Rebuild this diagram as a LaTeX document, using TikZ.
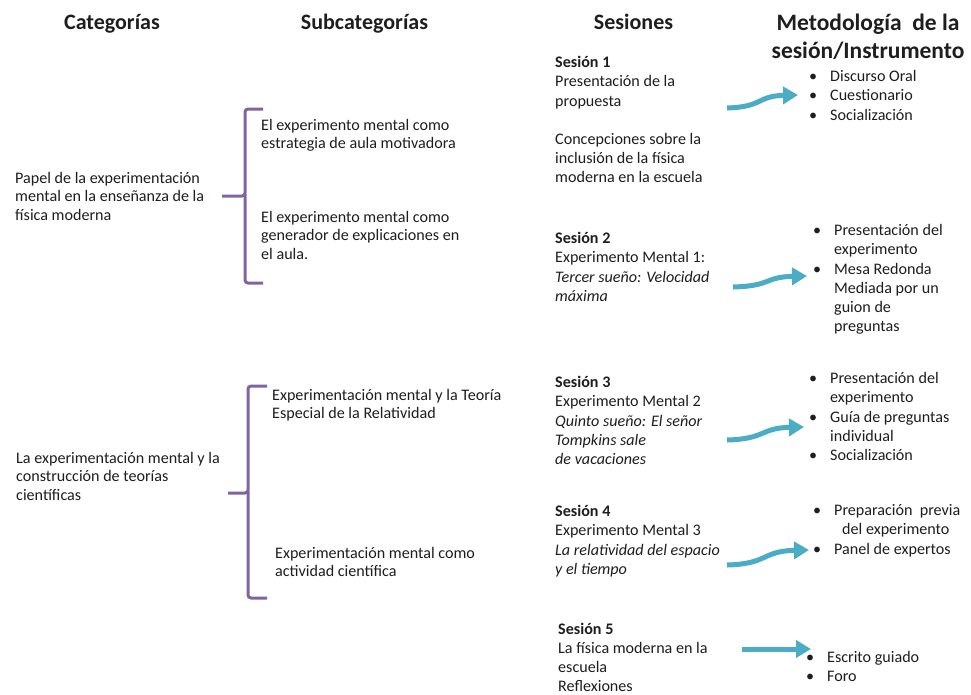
\documentclass[tikz,border=0pt]{standalone}
\usepackage{fontspec}
\setmainfont{Carlito}
\usetikzlibrary{arrows.meta}
\definecolor{txtcol}{RGB}{30,30,30}
\definecolor{bracecol}{RGB}{128,100,162}
\definecolor{arrowcol}{RGB}{75,172,198}
\newcommand{\bitem}{\makebox[21pt][l]{\textbullet}}
\newcommand{\bcont}{\hspace*{21pt}}
\begin{document}
\begin{tikzpicture}[x=1pt,y=-1pt,
  hdr/.style={anchor=north, inner sep=0pt, align=center, text=txtcol,
    font=\fontsize{22}{26}\selectfont\bfseries},
  txt/.style={anchor=north west, inner sep=0pt, align=left, text=txtcol,
    font=\fontsize{16.1}{18.6}\selectfont},
  sess/.style={txt, font=\fontsize{16.1}{19.2}\selectfont},
  bracepath/.style={draw=bracecol, line width=3pt, rounded corners=3pt},
  flow/.style={draw=arrowcol, line width=5pt, -{Triangle[length=15pt,width=17pt]}}]
\useasboundingbox (0,0) rectangle (971,694);
\fill[white] (0,0) rectangle (971,694);

% headers
\node[hdr] (h1) at (112,11) {\strut Categorías};
\node[hdr] (h2) at (364.5,11) {\strut Subcategorías};
\node[hdr] (h3) at (633.5,11) {\strut Sesiones};
\node[hdr, font=\fontsize{23.5}{28}\selectfont\bfseries] (h4) at (868,10.2) {\strut Metodología\ \ de la\\sesión/Instrumento};

% categories
\node[txt] (cat1) at (15,170) {\strut Papel de la experimentación\\mental en la enseñanza de la\\física moderna};
\node[txt] (cat2) at (16,450) {\strut La experimentación mental y la\\construcción de teorías\\científicas};

% subcategories
\node[txt] (sub1a) at (261,117) {\strut El experimento mental como\\estrategia de aula motivadora};
\node[txt] (sub1b) at (261,209) {\strut El experimento mental como\\generador de explicaciones en\\el aula.};
\node[txt] (sub2a) at (272,387) {\strut Experimentación mental y la Teoría\\Especial de la Relatividad};
\node[txt] (sub2b) at (275,545) {\strut Experimentación mental como\\actividad científica};

% braces
\coordinate (br1t) at (263,109);
\coordinate (br1m) at (222,196);
\coordinate (br1b) at (263,283);
\draw[bracepath] (br1t) -| (245,196) -- (br1m);
\draw[bracepath] (245,194) |- (br1b);
\coordinate (br2t) at (267,386);
\coordinate (br2m) at (228,493);
\coordinate (br2b) at (267,598);
\draw[bracepath] (br2t) -| (248,493) -- (br2m);
\draw[bracepath] (248,491) |- (br2b);

% sessions
\node[sess] (s1) at (555,54) {\strut\textbf{Sesión 1}\\Presentación de la\\propuesta\\[19.2pt]Concepciones sobre la\\inclusión de la física\\moderna en la escuela};
\node[sess] (s2) at (555,230) {\strut\textbf{Sesión 2}\\Experimento Mental 1:\\\textit{Tercer sueño: Velocidad}\\\textit{máxima}};
\node[sess] (s3) at (555,374) {\strut\textbf{Sesión 3}\\Experimento Mental 2\\\textit{Quinto sueño: El señor}\\\textit{Tompkins sale}\\\textit{de vacaciones}};
\node[sess] (s4) at (555,503) {\strut\textbf{Sesión 4}\\Experimento Mental 3\\\textit{La relatividad del espacio}\\\textit{y el tiempo}};
\node[sess, font=\fontsize{16.1}{19}\selectfont] (s5) at (558,621) {\strut\textbf{Sesión 5}\\La física moderna en la\\escuela\\Reflexiones};

% methodology lists
\node[sess] (m1) at (809,68) {\strut\bitem Discurso Oral\\\bitem Cuestionario\\\bitem Socialización};
\node[sess] (m2) at (813,222) {\strut\bitem Presentación del\\\bcont experimento\\\bitem Mesa Redonda\\\bcont Mediada por un\\\bcont guion de\\\bcont preguntas};
\node[sess] (m3) at (809,370) {\strut\bitem Presentación del\\\bcont experimento\\\bitem Guía de preguntas\\\bcont individual\\\bitem Socialización};
\node[sess] (m4) at (813,502) {\strut\bitem Preparación\ \ previa\\\hspace*{29pt}del experimento\\\bitem Panel de expertos};
\node[sess] (m5) at (806,649) {\strut\bitem Escrito guiado\\\bitem Foro};

% arrows
\coordinate (a1s) at (727,108); \coordinate (a1e) at (798,95);
\coordinate (a2s) at (733,287); \coordinate (a2e) at (807,276);
\coordinate (a3s) at (727,440); \coordinate (a3e) at (804,427);
\coordinate (a4s) at (727,565); \coordinate (a4e) at (809,550);
\coordinate (a5s) at (742,649); \coordinate (a5e) at (811,649);
\draw[flow] (a1s) .. controls (763,107) and (757,96) .. (a1e);
\draw[flow] (a2s) .. controls (772,286) and (764,277) .. (a2e);
\draw[flow] (a3s) .. controls (766,439) and (760,428) .. (a3e);
\draw[flow] (a4s) .. controls (768,564) and (762,551) .. (a4e);
\draw[flow] (a5s) -- (a5e);
\end{tikzpicture}
\end{document}
